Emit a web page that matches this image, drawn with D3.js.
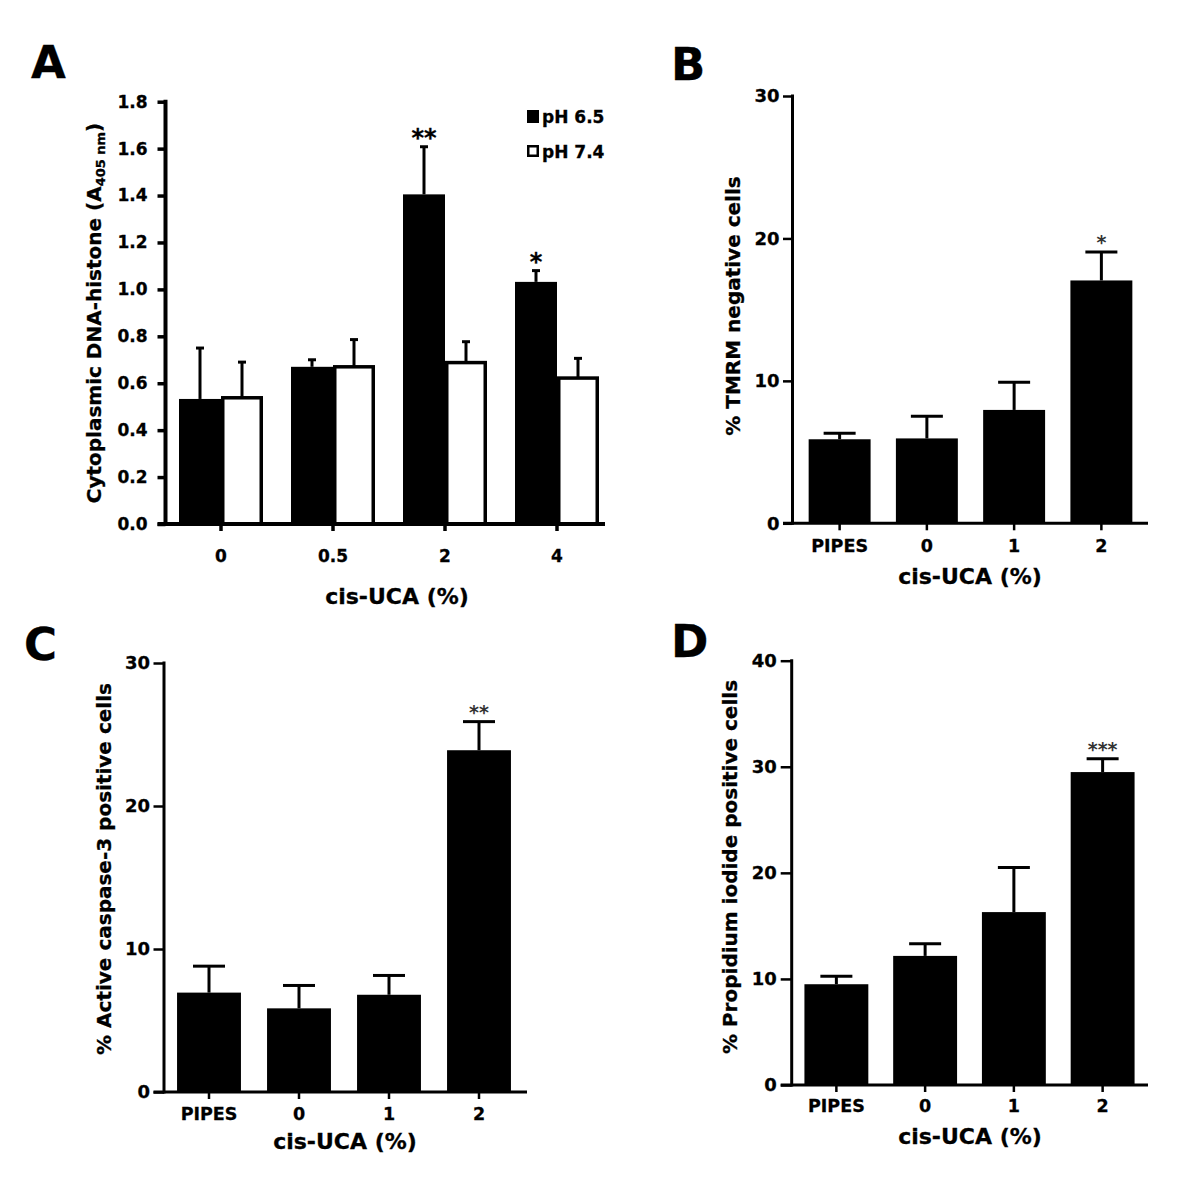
<!DOCTYPE html>
<html><head><meta charset="utf-8">
<script src="https://cdn.jsdelivr.net/npm/d3@7"></script>
<style>
body{margin:0;background:#fff}
text{font-family:"DejaVu Sans",sans-serif;font-weight:bold;fill:#000;stroke:#000;stroke-width:0.3px}
</style>
</head><body>
<svg id="fig" width="1200" height="1195"></svg>
<script>
// ---------- DATA ----------
// Panel A
const catsA = ["0", "0.5", "2", "4"];
const seriesA = ["pH 6.5", "pH 7.4"];
const meanA65 = [0.533, 0.670, 1.405, 1.032];
const semA65  = [0.217, 0.030, 0.203, 0.048];
const meanA74 = [0.538, 0.670, 0.688, 0.622];
const semA74  = [0.152, 0.116, 0.089, 0.084];
const starsA65 = ["", "", "**", "*"];
const ticksA = [0, 0.2, 0.4, 0.6, 0.8, 1.0, 1.2, 1.4, 1.6, 1.8];

// Panels B, C, D share categories
const catsBCD = ["PIPES", "0", "1", "2"];
// Panel B
const meanB = [5.9, 5.96, 7.96, 17.05];
const semB  = [0.42, 1.55, 1.95, 2.0];
const starsB = ["", "", "", "*"];
const ticksB = [0, 10, 20, 30];
// Panel C
const meanC = [6.95, 5.85, 6.8, 23.9];
const semC  = [1.85, 1.6, 1.35, 2.0];
const starsC = ["", "", "", "**"];
const ticksC = [0, 10, 20, 30];
// Panel D
const meanD = [9.5, 12.17, 16.3, 29.5];
const semD  = [0.75, 1.15, 4.2, 1.25];
const starsD = ["", "", "", "***"];
const ticksD = [0, 10, 20, 30, 40];

// ---------- DRAW ----------
const svg = d3.select("#fig");

function letter(t, x, y) {
  svg.append("text").attr("x", x).attr("y", y).attr("font-size", 45).text(t);
}

function styleText(sel, fs) {
  sel.attr("font-size", fs).attr("font-family", "DejaVu Sans").attr("font-weight", "bold")
    .attr("fill", "#000");
}

function yAxis(g, y, ticks, ax, tickLen, pad, fs, fmt, lw) {
  const axis = d3.axisLeft(y).tickValues(ticks).tickSize(tickLen).tickPadding(pad).tickSizeOuter(0);
  if (fmt) axis.tickFormat(fmt);
  const a = g.append("g").attr("transform", `translate(${ax},0)`).call(axis);
  a.select(".domain").remove();
  a.selectAll("line").attr("stroke", "#000").attr("stroke-width", lw - 0.5);
  styleText(a.selectAll("text"), fs);
  g.append("line").attr("x1", ax).attr("x2", ax)
    .attr("y1", y(ticks[ticks.length - 1]) - lw / 2).attr("y2", y(0) + lw / 2)
    .attr("stroke", "#000").attr("stroke-width", lw);
}

function xAxis(g, x, y0, ax, tickLen, axisEnd, tSize, tPad, fs, lw) {
  const axis = d3.axisBottom(x).tickSize(tSize).tickPadding(tPad).tickSizeOuter(0);
  const a = g.append("g").attr("transform", `translate(0,${y0})`).call(axis);
  a.select(".domain").remove();
  a.selectAll("line").attr("stroke", "#000").attr("stroke-width", lw - 0.5);
  styleText(a.selectAll("text"), fs);
  g.append("line").attr("x1", ax - tickLen).attr("x2", axisEnd)
    .attr("y1", y0).attr("y2", y0).attr("stroke", "#000").attr("stroke-width", lw);
}

function yLabel(g, cx, cy, fs) {
  return g.append("text").attr("transform", `translate(${cx},${cy}) rotate(-90)`)
    .attr("text-anchor", "middle").attr("dy", "0.26em").attr("font-size", fs);
}

function xLabel(g, cx, base, fs, t) {
  g.append("text").attr("x", cx).attr("y", base).attr("text-anchor", "middle")
    .attr("font-size", fs).text(t);
}

// ----- Panel A -----
(function () {
  const g = svg.append("g");
  const ax = 165.5, y0 = 524;
  const y = d3.scaleLinear().domain([0, 1.8]).range([y0, 101.7]);
  const x = d3.scaleBand().domain(catsA).range([165, 613]);
  const xs = d3.scaleBand().domain(seriesA).range([-42, 42]);
  const rows = catsA.map((c, i) => ({ c, vals: [
    { s: seriesA[0], m: meanA65[i], e: semA65[i], star: starsA65[i] },
    { s: seriesA[1], m: meanA74[i], e: semA74[i], star: "" } ] }));
  const items = rows.flatMap(r => r.vals.map(v => Object.assign({ c: r.c }, v)));
  const cx = d => x(d.c) + x.bandwidth() / 2 + xs(d.s) + xs.bandwidth() / 2;

  // error bars
  g.selectAll(".eb").data(items).join("line")
    .attr("x1", cx).attr("x2", cx).attr("y1", d => y(d.m)).attr("y2", d => y(d.m + d.e))
    .attr("stroke", "#000").attr("stroke-width", 3);
  g.selectAll(".cap").data(items).join("line")
    .attr("x1", d => cx(d) - 4).attr("x2", d => cx(d) + 4)
    .attr("y1", d => y(d.m + d.e)).attr("y2", d => y(d.m + d.e))
    .attr("stroke", "#000").attr("stroke-width", 3);

  // bars
  g.selectAll(".bar").data(items).join("rect")
    .attr("x", d => d.s === seriesA[0] ? x(d.c) + x.bandwidth() / 2 + xs(d.s) : x(d.c) + x.bandwidth() / 2 + xs(d.s) + 1.75)
    .attr("width", d => d.s === seriesA[0] ? xs.bandwidth() : xs.bandwidth() - 3.5)
    .attr("y", d => y(d.m))
    .attr("height", d => y(0) - y(d.m))
    .attr("fill", d => d.s === seriesA[0] ? "#000" : "#fff")
    .attr("stroke", d => d.s === seriesA[0] ? "none" : "#000")
    .attr("stroke-width", 3.5);

  // stars
  g.selectAll(".star").data(items.filter(d => d.star)).join("text")
    .attr("x", cx).attr("y", d => y(d.m + d.e) - 1)
    .attr("text-anchor", "middle").attr("font-size", 24).text(d => d.star);

  yAxis(g, y, ticksA, ax, 8, 10, 17, d3.format(".1f"), 4);
  xAxis(g, x, y0, ax, 8, 605, 7, 19, 17, 4);

  // legend
  const leg = g.append("g");
  seriesA.forEach((s, i) => {
    leg.append("rect").attr("x", i === 0 ? 527 : 528.25).attr("y", i === 0 ? 110 : 146.25)
      .attr("width", i === 0 ? 12 : 9.5).attr("height", i === 0 ? 13 : 9.5)
      .attr("fill", i === 0 ? "#000" : "#fff").attr("stroke", i === 0 ? "none" : "#000").attr("stroke-width", 2.5);
    leg.append("text").attr("x", 542).attr("y", i === 0 ? 122.5 : 157.5).attr("font-size", 17).text(s);
  });

  const yl = yLabel(g, 96, 313, 20);
  yl.append("tspan").text("Cytoplasmic DNA-histone (A");
  yl.append("tspan").attr("font-size", 13).attr("dy", 4).text("405 nm");
  yl.append("tspan").attr("dy", -4).text(")");
  xLabel(g, 397, 604, 22, "cis-UCA (%)");
})();

// ----- Panels B, C, D -----
function simplePanel(o) {
  const g = svg.append("g");
  const y = d3.scaleLinear().domain([0, o.ticks[o.ticks.length - 1]]).range([o.y0, o.yTop]);
  const x = d3.scaleBand().domain(catsBCD).range(o.xr).paddingInner(o.pi).paddingOuter(o.pi / 2);
  const items = catsBCD.map((c, i) => ({ c, m: o.mean[i], e: o.sem[i], star: o.stars[i] }));
  const cx = d => x(d.c) + x.bandwidth() / 2;

  g.selectAll(".eb").data(items).join("line")
    .attr("x1", cx).attr("x2", cx).attr("y1", d => y(d.m)).attr("y2", d => y(d.m + d.e))
    .attr("stroke", "#000").attr("stroke-width", 3);
  g.selectAll(".cap").data(items).join("line")
    .attr("x1", d => cx(d) - 16).attr("x2", d => cx(d) + 16)
    .attr("y1", d => y(d.m + d.e)).attr("y2", d => y(d.m + d.e))
    .attr("stroke", "#000").attr("stroke-width", 3);
  g.selectAll(".bar").data(items).join("rect")
    .attr("x", d => x(d.c)).attr("width", x.bandwidth())
    .attr("y", d => y(d.m)).attr("height", d => y(0) - y(d.m))
    .attr("fill", "#000");
  g.selectAll(".star").data(items.filter(d => d.star)).join("text")
    .attr("x", cx).attr("y", d => y(d.m + d.e) - 3)
    .attr("text-anchor", "middle").attr("font-size", 19).attr("font-weight", "normal")
    .style("fill", "#333").style("stroke", "none").text(d => d.star);

  yAxis(g, y, o.ticks, o.ax, o.tickLen, o.tpad, 18, null, 3);
  xAxis(g, x, o.y0, o.ax, o.tickLen, o.axisEnd, 7, o.xpad, 17.5, 3);
  yLabel(g, o.ylx, o.yly, 20).text(o.ylabel);
  xLabel(g, o.xlx, o.xlb, 22, "cis-UCA (%)");
}

simplePanel({ mean: meanB, sem: semB, stars: starsB, ticks: ticksB,
  y0: 523.3, yTop: 96, ax: 792.5, xr: [796, 1145], pi: 0.29, axisEnd: 1148,
  tickLen: 9.5, tpad: 3.5, xpad: 9, ylx: 735, yly: 306, ylabel: "% TMRM negative cells",
  xlx: 970, xlb: 584 });
simplePanel({ mean: meanC, sem: semC, stars: starsC, ticks: ticksC,
  y0: 1092, yTop: 663, ax: 164, xr: [164, 524], pi: 0.29, axisEnd: 527,
  tickLen: 10.5, tpad: 3.5, xpad: 9, ylx: 106, yly: 869, ylabel: "% Active caspase-3 positive cells",
  xlx: 345, xlb: 1149 });
simplePanel({ mean: meanD, sem: semD, stars: starsD, ticks: ticksD,
  y0: 1085, yTop: 660.7, ax: 791.7, xr: [792, 1147], pi: 0.28, axisEnd: 1148,
  tickLen: 11, tpad: 4, xpad: 8, ylx: 732, yly: 867, ylabel: "% Propidium iodide positive cells",
  xlx: 970, xlb: 1144 });

letter("A", 31, 78);
letter("B", 671, 80);
letter("C", 24, 660);
letter("D", 671, 657);
</script>
</body></html>
